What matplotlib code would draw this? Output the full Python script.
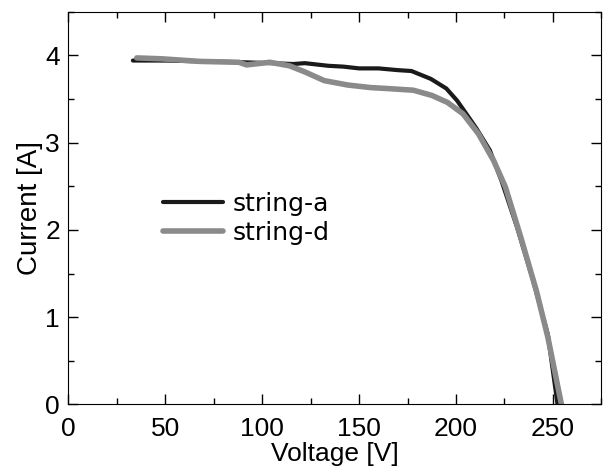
import matplotlib
matplotlib.use("Agg")
import matplotlib.pyplot as plt
from matplotlib.ticker import MultipleLocator

# I-V curves
volt_a = [33.3, 50, 70, 90, 105, 116, 122, 134, 142, 150, 160, 170, 177,
          187, 195, 200.6, 205, 210.6, 217.5, 223.5, 231.5, 239.4, 247.4, 252.4]
curr_a = [3.94, 3.94, 3.93, 3.92, 3.91, 3.90, 3.91, 3.88, 3.87, 3.85, 3.85,
          3.83, 3.82, 3.73, 3.62, 3.48, 3.34, 3.16, 2.91, 2.56, 2.03, 1.45, 0.80, 0.0]

volt_d = [35.3, 48, 68, 88, 92, 104, 114, 122, 132, 144, 156, 164, 178,
          187.6, 195.6, 203.6, 211.6, 219.5, 225.5, 233.5, 241.5, 247.4, 254.4]
curr_d = [3.97, 3.96, 3.93, 3.92, 3.89, 3.92, 3.88, 3.81, 3.71, 3.66, 3.63,
          3.62, 3.60, 3.54, 3.46, 3.33, 3.10, 2.79, 2.49, 1.91, 1.30, 0.77, 0.0]

plt.rcParams['font.family'] = ['Liberation Sans', 'DejaVu Sans']

fig = plt.figure(figsize=(6.05, 4.66), dpi=100)
ax = fig.add_axes([0.113, 0.132, 0.881, 0.843])

ax.plot(volt_a, curr_a, color='#1a1a1a', lw=3, label='string-a', solid_capstyle='round')
ax.plot(volt_d, curr_d, color='#8a8a8a', lw=4, label='string-d', solid_capstyle='round')

ax.set_xlim(0, 275)
ax.set_ylim(0, 4.5)
ax.xaxis.set_major_locator(MultipleLocator(50))
ax.xaxis.set_minor_locator(MultipleLocator(25))
ax.yaxis.set_major_locator(MultipleLocator(1))
ax.yaxis.set_minor_locator(MultipleLocator(0.5))
ax.tick_params(which='both', direction='in', top=True, right=True, labelsize=19)
ax.tick_params(which='major', length=7, width=1)
ax.tick_params(which='minor', length=4, width=1)
ax.tick_params(axis='x', pad=9)
ax.tick_params(axis='y', pad=6)

ax.set_xlabel('Voltage [V]', fontsize=19, labelpad=1)
ax.set_ylabel('Current [A]', fontsize=20, labelpad=2)

ax.legend(loc='upper left', bbox_to_anchor=(0.135, 0.598), frameon=False,
          prop={'family': 'DejaVu Sans', 'size': 18}, handlelength=2.4,
          handletextpad=0.4, labelspacing=0.2)

fig.savefig('out.png', dpi=100)
